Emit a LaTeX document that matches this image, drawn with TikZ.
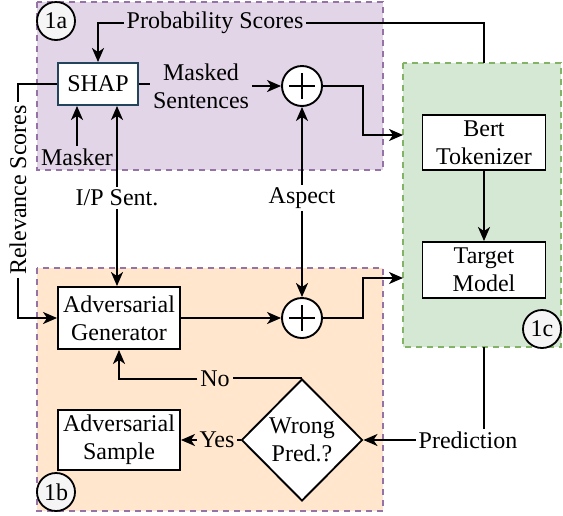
\documentclass[tikz,border=0pt]{standalone}
\usepackage{fontspec}
\setmainfont{Liberation Serif}
\usetikzlibrary{arrows.meta,shapes.geometric,calc}
\definecolor{purfill}{HTML}{E1D5E7}
\definecolor{purline}{HTML}{9673A6}
\definecolor{orfill}{HTML}{FFE6CC}
\definecolor{grfill}{HTML}{D5E8D4}
\definecolor{grline}{HTML}{82B366}
\definecolor{shapline}{HTML}{23445D}
\definecolor{tagfill}{HTML}{F5F5F5}
\begin{document}
\begin{tikzpicture}[x=1pt,y=-1pt, font=\fontsize{24}{28}\selectfont, line width=1.9pt,
 box/.style={draw, line width=1.9pt, fill=white, align=center, inner sep=0pt},
 region/.style={draw, dash pattern=on 6pt off 5pt, line width=1.5pt},
 tag/.style={circle, draw, fill=tagfill, line width=1.8pt, minimum size=38pt, inner sep=0pt},
 lbl/.style={inner sep=2pt, align=center},
 arr/.style={-{Stealth[length=14pt,width=12pt,inset=4pt]}},
 plusn/.style={circle, draw, fill=white, line width=1.9pt, minimum size=40pt, inner sep=0pt,
   path picture={\draw[line width=1.9pt]
     ([xshift=-13pt]path picture bounding box.center) -- ([xshift=13pt]path picture bounding box.center)
     ([yshift=-13pt]path picture bounding box.center) -- ([yshift=13pt]path picture bounding box.center);}}]
\useasboundingbox (0,0) rectangle (563,515);
% regions
\draw[region, draw=purline, fill=purfill] (37,2) rectangle (383,170);
\draw[region, draw=purline, fill=orfill] (37,268) rectangle (383,511);
\draw[region, draw=grline, fill=grfill] (403,63) rectangle (561,347);
% boxes
\node[box, draw=shapline, minimum width=80pt, minimum height=42pt] (shap) at (98,84) {SHAP};
\node[box, minimum width=123pt, minimum height=55pt] (bert) at (484,142.5) {Bert\\Tokenizer};
\node[box, minimum width=123pt, minimum height=56pt] (target) at (484,270) {Target\\Model};
\node[box, minimum width=122pt, minimum height=62pt] (gen) at (119,318) {Adversarial\\Generator};
\node[box, minimum width=122pt, minimum height=60pt] (sample) at (119,440) {Adversarial\\Sample};
\node[diamond, draw, fill=white, line width=1.9pt, minimum width=121pt, minimum height=122pt, inner sep=0pt, align=center] (wrong) at (302,440) {Wrong\\Pred.?};
\node[plusn] (p1) at (302,86) {};
\node[plusn] (p2) at (302,318) {};
% labels
\node[lbl] (prob) at (215,23) {Probability Scores};
\node[lbl] (masked) at (201,86) {Masked\\Sentences};
\node[lbl] (masker) at (77,157) {Masker};
\node[lbl] (ip) at (117,198) {I/P Sent.};
\node[lbl] (asp) at (302,198) {Aspect};
\node[lbl, rotate=90] (rel) at (18,190) {Relevance Scores};
\node[lbl] (no) at (215,379) {No};
\node[lbl] (yes) at (217,440) {Yes};
\node[lbl] (pred) at (468,440) {Prediction};
% tags
\node[tag] (t1a) at (56,21) {1a};
\node[tag] (t1b) at (56,492) {1b};
\node[tag] (t1c) at (542,329) {1c};
% connectors
\coordinate (ptop) at (484,63);
\draw (ptop) |- (prob.east);
\draw[arr] (prob.west) -| (shap.north);
\draw (shap.east) -- (masked.west |- shap.east);
\draw[arr] (masked.east |- p1.west) -- (p1.west);
\draw[arr] (masker.north) -- (masker.north |- shap.south);
\draw[arr] (ip.north) -- (ip.north |- shap.south);
\draw[arr] (ip.south) -- (ip.south |- gen.north);
\draw[arr] (asp.north) -- (p1.south);
\draw[arr] (asp.south) -- (p2.north);
\coordinate (g1) at (403,135);
\coordinate (g2) at (403,278);
\draw[arr] (p1.east) -- ++(40,0) |- (g1);
\draw[arr] (p2.east) -- ++(40,0) |- (g2);
\draw[arr] (bert.south) -- (target.north);
\draw (shap.west) -| (rel.east);
\draw[arr] (rel.west) |- (gen.west);
\draw[arr] (gen.east) -- (p2.west);
\coordinate (gb) at (484,347);
\draw (gb) -- (gb |- pred.north);
\draw[arr] (pred.west) -- (wrong.east);
\draw (wrong.north) -- (no.east |- wrong.north);
\draw[arr] (no.west) -| (gen.south);
\draw (wrong.west) -- (yes.east);
\draw[arr] (yes.west) -- (sample.east);
\end{tikzpicture}
\end{document}
